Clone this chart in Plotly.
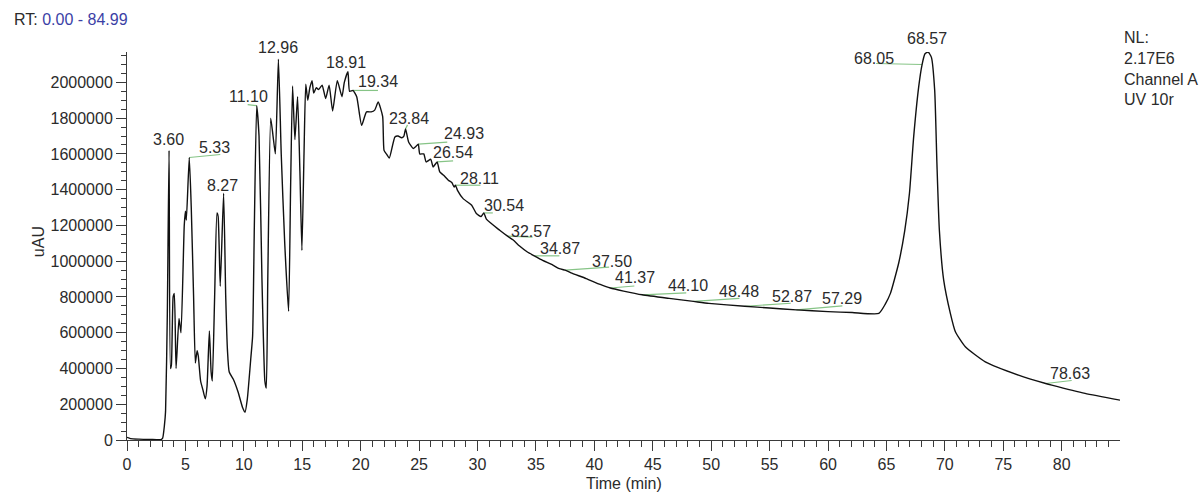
import numpy as np
import plotly.graph_objects as go

# UV trace, channel A (time in minutes, signal in uAU)
time_min = [
    0.0, 0.3, 1.0, 2.0, 2.9, 3.05, 3.2, 3.3, 3.45, 3.60, 3.72, 3.8, 3.95, 4.05,
    4.2, 4.45, 4.62, 4.9, 5.0, 5.08, 5.33, 5.5, 5.7, 5.85, 6.0, 6.1, 6.3, 6.5,
    6.7, 6.85, 7.05, 7.2, 7.3, 7.5, 7.7, 7.8, 7.98, 8.27, 8.45, 8.6, 8.75, 9.1,
    9.5, 9.9, 10.1, 10.3, 10.6, 10.75, 10.9, 11.10, 11.3, 11.55, 11.8, 11.92,
    12.05, 12.3, 12.5, 12.7, 12.96, 13.2, 13.5, 13.83, 14.0, 14.17, 14.37, 14.6,
    14.8, 14.97, 15.15, 15.3, 15.47, 15.65, 15.84, 15.98, 16.2, 16.4, 16.7, 17.0,
    17.3, 17.6, 18.0, 18.4, 18.6, 18.91, 19.05, 19.34, 19.66, 20.08, 20.5, 20.9,
    21.2, 21.5, 21.88, 22.0, 22.2, 22.45, 22.93, 23.2, 23.5, 23.7, 23.84, 24.1,
    24.5, 24.7, 24.93, 25.06, 25.4, 25.6, 26.0, 26.2, 26.54, 26.77, 27.1, 27.5,
    27.8, 28.0, 28.11, 28.3, 28.77, 29.5, 29.9, 30.3, 30.54, 30.76, 31.9, 32.57,
    33.03, 33.6, 34.3, 34.87, 35.4, 36.45, 37.0, 37.50, 38.0, 39.3, 40.5, 41.37,
    42.5, 44.10, 46.4, 48.48, 49.8, 52.87, 55.0, 57.29, 60.0, 62.07, 64.35, 64.9,
    65.34, 66.05, 66.57, 66.97, 67.33, 67.76, 68.05, 68.3, 68.57, 68.85, 69.13,
    69.32, 69.53, 69.9, 70.47, 70.9, 71.75, 73.46, 76.3, 78.63, 79.15, 82.0, 84.99,
]
signal_uau = [
    15000, 8000, 5000, 3000, 2000, 10000, 80000, 160000, 700000, 1620000, 400000, 420000, 800000, 820000,
    400000, 680000, 600000, 1200000, 1280000, 1230000, 1580000, 1300000, 800000, 430000, 500000, 470000, 330000, 280000,
    230000, 300000, 610000, 380000, 330000, 800000, 1270000, 1250000, 860000, 1380000, 800000, 500000, 380000, 340000,
    270000, 180000, 155000, 230000, 460000, 580000, 1200000, 1870000, 1700000, 900000, 330000, 290000,
    900000, 1800000, 1700000, 1600000, 2130000, 1600000, 1100000, 720000, 1400000, 1980000, 1680000, 1920000,
    1500000, 1060000, 1600000, 1990000, 1900000, 1970000, 2010000, 1940000, 1970000, 1960000, 1985000, 1910000,
    1985000, 1840000, 2010000, 1920000, 2000000, 2060000, 1950000, 1955000, 1920000, 1760000, 1835000, 1835000,
    1845000, 1890000, 1810000, 1620000, 1600000, 1577000, 1695000, 1700000, 1690000, 1700000, 1740000, 1667000,
    1630000, 1640000, 1655000, 1600000, 1600000, 1555000, 1570000, 1527000, 1555000, 1500000, 1480000, 1453000,
    1440000, 1415000, 1425000, 1395000, 1350000, 1313000, 1267000, 1250000, 1270000, 1235000, 1173000, 1140000,
    1120000, 1085000, 1050000, 1030000, 1010000, 978000, 958000, 950000, 935000, 903000, 870000, 850000,
    833000, 812000, 792000, 775000, 764000, 748000, 738000, 728000, 718000, 713000, 708000, 760000,
    820000, 990000, 1173000, 1380000, 1695000, 1975000, 2100000, 2160000, 2170000, 2140000, 1955000,
    1546000, 1173000, 894000, 708000, 605000, 521000, 437000, 363000, 316000, 307000, 261000, 223000,
]

# Retention times of the labelled peaks
peak_rt = [3.60, 5.33, 8.27, 11.10, 12.96, 18.91, 19.34, 23.84, 24.93, 26.54, 28.11, 30.54,
           32.57, 34.87, 37.50, 41.37, 44.10, 48.48, 52.87, 57.29, 68.05, 68.57, 78.63]

# Label placement relative to each apex, in screen pixels (right, down)
label_offset = [(-1, -11), (25.6, -9.7), (-1, -8), (-8.5, -9.3), (0, -11.3), (-2, -9),
                (25.5, -9), (3.3, -10.6), (46, -10.3), (16.2, -9.2), (23.8, -7), (20.4, -7.7),
                (23, -5), (25.7, -7.6), (46.4, -9), (24.6, -10.4), (45.6, -9.7), (45.8, -9.8),
                (46.9, -9.6), (45.6, -11.2), (-47.9, -5.6), (-1, -14), (24.8, -9.9)]
# End point of the green leader line from the apex (None = no leader)
leader_end = [None, (31, -3), None, (-9, -1), None, None,
              (25, 0), (2, -4), (29, -2), (16, -1), (25, 0), (9, 0),
              (25, 1), (25, 0), (44, -3), (24, -2), (44, -2), (46, -3),
              (46, -3), (46, -4), (-46, -1), None, (26, -3)]

FONT = "Liberation Sans, Arial, Helvetica, sans-serif"
TEXT = "#2b2b2b"
AXIS = "#3a3a3a"
LEADER = "#86c486"

fig = go.Figure()
fig.add_trace(go.Scatter(
    x=time_min, y=signal_uau, mode="lines",
    line=dict(color="#111111", width=1.4, shape="spline", smoothing=0.5),
    hoverinfo="skip", showlegend=False,
))

apex = np.interp(peak_rt, time_min, signal_uau)
annotations = []
shapes = []
for rt, val, (dx, dy), lead in zip(peak_rt, apex, label_offset, leader_end):
    annotations.append(dict(
        x=rt, y=float(val), xref="x", yref="y", text=f"{rt:.2f}",
        showarrow=False, xanchor="center", yanchor="middle",
        xshift=dx, yshift=-dy, font=dict(family=FONT, size=16, color=TEXT),
    ))
    if lead is not None:
        shapes.append(dict(
            type="line", xref="x", yref="y",
            xsizemode="pixel", xanchor=rt, x0=0, x1=lead[0],
            ysizemode="pixel", yanchor=float(val), y0=0, y1=-lead[1],
            line=dict(color=LEADER, width=1.2), layer="below",
        ))

# Header, detector info and axis titles
annotations += [
    dict(x=-0.1158, y=1.085, xref="paper", yref="paper", xanchor="left", yanchor="middle",
         showarrow=False, font=dict(family=FONT, size=16, color=TEXT),
         text="RT: <span style='color:#3b3fa6'>0.00 - 84.99</span>"),
    dict(x=1.002, y=1.065, xref="paper", yref="paper", xanchor="left", yanchor="top",
         showarrow=False, align="left", font=dict(family=FONT, size=16, color=TEXT),
         text="NL:<br>2.17E6<br>Channel A<br>UV 10r"),
    dict(x=-0.0896, y=0.51, xref="paper", yref="paper", xanchor="center", yanchor="middle",
         showarrow=False, textangle=-90, font=dict(family=FONT, size=16, color=TEXT),
         text="uAU"),
    dict(x=0.5, y=-0.111, xref="paper", yref="paper", xanchor="center", yanchor="middle",
         showarrow=False, font=dict(family=FONT, size=16, color=TEXT),
         text="Time (min)"),
]

fig.update_layout(
    width=1204, height=493,
    margin=dict(l=127, r=84, t=52, b=53),
    paper_bgcolor="white", plot_bgcolor="white",
    annotations=annotations, shapes=shapes,
    font=dict(family=FONT, size=16, color=TEXT),
)
fig.update_xaxes(
    range=[0, 84.99], tick0=0, dtick=5, showgrid=False, zeroline=False,
    showline=True, linecolor=AXIS, linewidth=1,
    ticks="outside", ticklen=10, tickcolor=AXIS, tickwidth=1,
    tickfont=dict(family=FONT, size=16, color=TEXT),
    minor=dict(dtick=1, ticks="outside", ticklen=6, tickcolor=AXIS, showgrid=False),
)
fig.update_yaxes(
    range=[0, 2170000], tick0=0, dtick=200000, tickformat="d", showgrid=False, zeroline=False,
    showline=True, linecolor=AXIS, linewidth=1,
    ticks="outside", ticklen=10, tickcolor=AXIS, tickwidth=1,
    tickfont=dict(family=FONT, size=16, color=TEXT),
    minor=dict(dtick=50000, ticks="outside", ticklen=5, tickcolor=AXIS, showgrid=False),
)

fig.write_html("out.html")
